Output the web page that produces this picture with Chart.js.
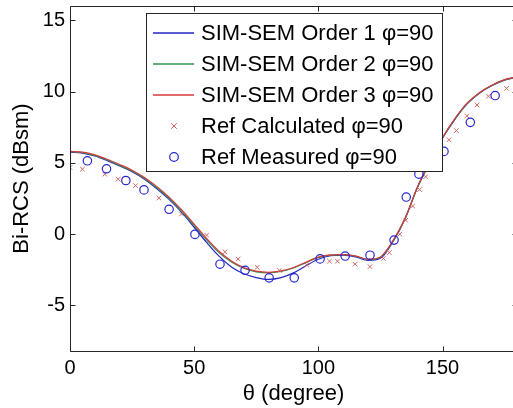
<!DOCTYPE html>
<html><head><meta charset="utf-8">
<script src="https://cdn.jsdelivr.net/npm/chart.js@4.4.0/dist/chart.umd.min.js"></script>
<style>html,body{margin:0;padding:0;background:#fff;overflow:hidden;}#wrap{width:513px;height:408px;overflow:hidden;position:relative;}canvas{display:block;}</style>
</head><body><div id="wrap"><canvas id="c" width="540" height="408"></canvas></div>
<script>
// ---- data ----
const thetaLine = [0,5,10,15,20,25,30,35,40,45,50,55,60,65,70,75,80,85,90,95,100,105,110,115,120,125,130,135,140,145,150,155,160,165,170,175,180];
const order1 = [5.74,5.68,5.48,5.15,4.78,4.37,3.85,3.18,2.42,1.52,0.48,-0.58,-1.55,-2.3,-2.78,-3.05,-3.18,-3.05,-2.72,-2.22,-1.76,-1.52,-1.48,-1.6,-1.85,-1.7,-0.55,1.1,3.3,5.05,6.72,8.05,9.15,9.9,10.42,10.8,11.0];
const order2 = [5.78,5.72,5.52,5.2,4.82,4.42,3.9,3.25,2.5,1.6,0.6,-0.4,-1.3,-1.95,-2.4,-2.65,-2.72,-2.62,-2.38,-2.0,-1.65,-1.48,-1.45,-1.55,-1.78,-1.62,-0.5,1.12,3.32,5.08,6.74,8.08,9.18,9.92,10.44,10.82,11.02];
const order3 = [5.8,5.75,5.56,5.25,4.88,4.48,3.97,3.33,2.58,1.7,0.7,-0.3,-1.2,-1.88,-2.35,-2.6,-2.68,-2.58,-2.34,-1.97,-1.62,-1.46,-1.44,-1.54,-1.76,-1.6,-0.48,1.14,3.34,5.1,6.76,8.1,9.2,9.94,10.46,10.84,11.04];
const calcTheta = [0,5,14,19.4,26.4,35.8,44.9,55,62.4,67.7,75.4,84.3,95.3,104.5,107.7,114.8,120.8,126.2,128.6,132.8,135.2,138,140.8,143.2,152.6,155.6,159.8,163.9,168.5,175.8];
const calcVals = [4.67,4.55,4.2,3.85,3.4,2.53,1.41,-0.07,-1.24,-1.75,-2.33,-2.55,-2.16,-1.9,-1.9,-2.11,-2.28,-1.71,-1.3,-0.01,0.97,1.97,3.12,4.02,6.62,7.26,8.28,9.06,9.67,10.22];
const measTheta = [7,14.7,22.5,29.8,39.9,50.3,60.4,70.5,80.2,90.3,100.7,110.8,120.8,130.5,135.4,140.5,150.6,161.2,171.2];
const measVals = [5.14,4.58,3.76,3.1,1.74,-0.02,-2.11,-2.54,-3.07,-3.07,-1.74,-1.54,-1.48,-0.42,2.6,4.2,5.8,7.84,9.72];
const xTicks = [0,50,100,150];
const yTicks = [-5,0,5,10,15];
const seriesLabels = ['SIM-SEM Order 1 \u03c6=90','SIM-SEM Order 2 \u03c6=90','SIM-SEM Order 3 \u03c6=90','Ref Calculated \u03c6=90','Ref Measured \u03c6=90'];

const COL_O1 = '#2424c4', COL_O2 = '#2f9352', COL_O3 = '#d43a3a', COL_CALC = '#d46666', COL_MEAS = '#2626d2';
const legendStyles = [
  {kind:'line', color:COL_O1},
  {kind:'line', color:COL_O2},
  {kind:'line', color:COL_O3},
  {kind:'cross', color:COL_CALC},
  {kind:'circle', color:COL_MEAS}
];

const pts = (xs, ys) => xs.map((x,i)=>({x:x, y:ys[i]}));
const FONT = '"Liberation Sans", Arial, Helvetica, sans-serif';
const AXC = '#262626';

const frame = {
  id:'frame',
  afterDatasetsDraw(chart){
    const {ctx, chartArea:a, scales:{x, y}} = chart;
    ctx.save();
    ctx.strokeStyle = AXC; ctx.lineWidth = 1;
    const L = Math.round(a.left)+0.5, R = Math.round(a.right)+0.5, T = Math.round(a.top)+0.5, B = Math.round(a.bottom)+0.5;
    ctx.beginPath();
    ctx.rect(L, T, R-L, B-T);
    xTicks.forEach(v=>{ const px = Math.round(x.getPixelForValue(v))+0.5; ctx.moveTo(px,B); ctx.lineTo(px,B-5); ctx.moveTo(px,T); ctx.lineTo(px,T+5); });
    yTicks.forEach(v=>{ const py = Math.round(y.getPixelForValue(v))+0.5; ctx.moveTo(L,py); ctx.lineTo(L+5,py); ctx.moveTo(R,py); ctx.lineTo(R-5,py); });
    ctx.stroke();
    ctx.restore();
  },
  afterDraw(chart){
    const ctx = chart.ctx;
    ctx.save();
    const bx = 146.5, by = 13.5, bw = 296, bh = 158;
    ctx.fillStyle = '#fff'; ctx.fillRect(bx, by, bw, bh);
    ctx.strokeStyle = AXC; ctx.lineWidth = 1; ctx.strokeRect(bx, by, bw, bh);
    ctx.font = '22px ' + FONT; ctx.textBaseline = 'middle'; ctx.textAlign = 'left';
    legendStyles.forEach((st, i)=>{
      const ry = 33 + i*31;
      if (st.kind === 'line'){
        ctx.strokeStyle = st.color; ctx.lineWidth = 1.6;
        ctx.beginPath(); ctx.moveTo(153, ry); ctx.lineTo(194, ry); ctx.stroke();
      } else if (st.kind === 'cross'){
        ctx.strokeStyle = st.color; ctx.lineWidth = 1;
        const s = 2.8;
        ctx.beginPath(); ctx.moveTo(174-s, ry-s); ctx.lineTo(174+s, ry+s); ctx.moveTo(174-s, ry+s); ctx.lineTo(174+s, ry-s); ctx.stroke();
      } else {
        ctx.strokeStyle = st.color; ctx.lineWidth = 1.2;
        ctx.beginPath(); ctx.arc(174, ry, 4.3, 0, Math.PI*2); ctx.stroke();
      }
      ctx.fillStyle = '#000';
      ctx.fillText(seriesLabels[i], 201, ry+1);
    });
    ctx.restore();
  }
};

const lineDs = (lab, data, col, ord) => ({label:lab, data:data, showLine:true, borderColor:col, borderWidth:1.2, pointRadius:0, pointHoverRadius:0, cubicInterpolationMode:'monotone', fill:false, order:ord});

new Chart(document.getElementById('c'), {
  type:'scatter',
  data:{datasets:[
    {label:seriesLabels[4], data:pts(measTheta, measVals), showLine:false, pointStyle:'circle', pointRadius:4.2, pointBorderWidth:1.2, pointBorderColor:COL_MEAS, pointBackgroundColor:'rgba(0,0,0,0)', order:0},
    {label:seriesLabels[3], data:pts(calcTheta, calcVals), showLine:false, pointStyle:'crossRot', pointRadius:3.2, pointBorderWidth:1, pointBorderColor:COL_CALC, pointBackgroundColor:'rgba(0,0,0,0)', order:1},
    lineDs(seriesLabels[2], pts(thetaLine, order3), COL_O3, 2),
    lineDs(seriesLabels[1], pts(thetaLine, order2), COL_O2, 3),
    lineDs(seriesLabels[0], pts(thetaLine, order1), COL_O1, 4)
  ]},
  options:{
    responsive:false, animation:false, devicePixelRatio:1,
    layout:{padding:{left:0, top:6, right:23, bottom:0}},
    plugins:{legend:{display:false}, tooltip:{enabled:false}},
    scales:{
      x:{type:'linear', min:0, max:180,
         grid:{display:false, drawTicks:false}, border:{display:false},
         afterBuildTicks:(s)=>{ s.ticks = xTicks.map(v=>({value:v})); },
         ticks:{font:{family:FONT, size:20}, color:'#000', padding:5, maxRotation:0},
         title:{display:true, text:'\u03b8 (degree)', font:{family:FONT, size:22}, color:'#000', padding:{top:0, bottom:1}},
         afterFit:(s)=>{ s.height = 57; s.paddingLeft = 0; s.paddingRight = 0; }
      },
      y:{type:'linear', min:-8.2, max:16,
         grid:{display:false, drawTicks:false}, border:{display:false},
         afterBuildTicks:(s)=>{ s.ticks = yTicks.map(v=>({value:v})); },
         ticks:{font:{family:FONT, size:20}, color:'#000', padding:5},
         title:{display:true, text:'Bi-RCS (dBsm)', font:{family:FONT, size:22}, color:'#000', padding:{top:9, bottom:0}},
         afterFit:(s)=>{ s.width = 70; s.paddingTop = 0; s.paddingBottom = 0; }
      }
    }
  },
  plugins:[frame]
});
</script></body></html>
